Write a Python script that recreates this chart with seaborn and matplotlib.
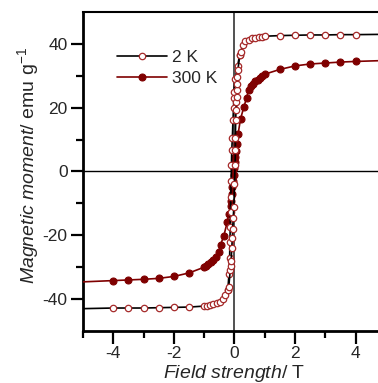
import pandas as pd
import numpy as np
import matplotlib
matplotlib.use('Agg')
import matplotlib.pyplot as plt
import seaborn as sns

# curva 2 K (primeiro e ultimo so para a linha)
campo_2k = [-5.0, -4.0, -3.5, -3.0, -2.5, -2.0, -1.5, -1.0, -0.9, -0.8, -0.7, -0.58, -0.47,
            -0.38, -0.30, -0.22, -0.19, -0.14, -0.12, -0.11, -0.09, -0.07, -0.06, -0.04,
            -0.02, 0.0, 0.02, 0.03, 0.03, 0.04, 0.05, 0.06, 0.07, 0.08, 0.08, 0.09, 0.11,
            0.175, 0.20, 0.28, 0.36, 0.47, 0.58, 0.68, 0.80, 0.91, 1.0, 1.5, 2.0, 2.5,
            3.0, 3.5, 4.0, 5.0]
momento_2k = [-43.0, -42.8, -42.8, -42.8, -42.7, -42.6, -42.5, -42.2, -42.1, -41.9, -41.6,
              -41.3, -40.8, -40.0, -38.7, -37.2, -36.3, -31.0, -29.5, -28.0, -24.0, -21.0,
              -18.0, -14.5, -11.0, -4.0, 1.9, 6.6, 10.4, 16.0, 19.2, 21.8, 23.3, 25.4, 27.5,
              29.6, 31.7, 36.4, 37.5, 39.6, 40.8, 41.3, 41.7, 42.0, 42.1, 42.2, 42.4, 42.6,
              42.7, 42.8, 42.8, 42.9, 42.9, 43.0]

# ramo de volta do 2 K (so a parte ingreme)
campo_2k_volta = [0.17, 0.10, 0.02, -0.02, -0.02, -0.03, -0.05, -0.07, -0.09, -0.10, -0.11,
                  -0.12, -0.13, -0.14, -0.15, -0.16, -0.18, -0.22]
momento_2k_volta = [36.4, 33.0, 29.0, 25.0, 23.0, 20.0, 16.0, 10.4, 6.6, 1.9, -3.0, -8.0,
                    -12.8, -17.5, -22.0, -27.0, -32.0, -37.2]

# curva 300 K
campo_300k = [-5.0, -4.0, -3.5, -3.0, -2.5, -2.0, -1.5, -1.0, -0.95, -0.87, -0.79, -0.71,
              -0.61, -0.52, -0.46, -0.35, -0.24, -0.19, -0.13, -0.11, -0.09, -0.07, -0.05,
              -0.03, -0.01, 0.01, 0.03, 0.05, 0.09, 0.12, 0.20, 0.31, 0.40, 0.47, 0.53,
              0.60, 0.69, 0.77, 0.84, 0.91, 1.0, 1.5, 2.0, 2.5, 3.0, 3.5, 4.0, 5.0]
momento_300k = [-34.6, -34.2, -34.0, -33.8, -33.5, -32.9, -31.8, -30.0, -29.5, -29.0, -28.5,
                -27.7, -26.7, -25.1, -23.0, -20.1, -15.9, -13.3, -10.7, -9.1, -7.0, -5.0,
                -3.0, -1.0, 1.0, 3.0, 4.5, 6.5, 8.7, 11.8, 16.5, 20.2, 23.1, 25.7, 26.7,
                27.5, 28.3, 28.8, 29.3, 29.8, 30.5, 32.0, 33.1, 33.7, 34.0, 34.3, 34.5, 34.8]

vermelho = '#7f0000'
borda = '#a52a2a'

sns.set_style('ticks')
plt.rcParams['font.family'] = ['Liberation Sans', 'DejaVu Sans']
plt.rcParams['mathtext.fontset'] = 'custom'
plt.rcParams['mathtext.rm'] = 'Liberation Sans'
plt.rcParams['mathtext.it'] = 'Liberation Sans:italic'

fig = plt.figure(figsize=(3.78, 3.83), dpi=100)
ax = fig.add_axes([0.2196, 0.1358, 0.8014, 0.8329])

ax.axhline(0, color='black', lw=1.0, zorder=1)
ax.axvline(0, color='#333333', lw=1.2, zorder=1)

df_2k = pd.DataFrame({'campo': campo_2k, 'momento': momento_2k})
df_2k_volta = pd.DataFrame({'campo': campo_2k_volta, 'momento': momento_2k_volta})
df_300k = pd.DataFrame({'campo': campo_300k, 'momento': momento_300k})

sns.lineplot(data=df_300k, x='campo', y='momento', sort=False, estimator=None, ax=ax,
             color=vermelho, lw=1.2, marker='o', markevery=slice(1, -1), ms=5.0,
             mfc=vermelho, mec=vermelho, mew=0.8, label='300 K', zorder=3)
sns.lineplot(data=df_2k_volta, x='campo', y='momento', sort=False, estimator=None, ax=ax,
             color='black', lw=1.2, marker='o', ms=4.6, mfc='white', mec=borda, mew=0.9,
             zorder=4)
sns.lineplot(data=df_2k, x='campo', y='momento', sort=False, estimator=None, ax=ax,
             color='black', lw=1.2, marker='o', markevery=slice(1, -1), ms=4.6,
             mfc='white', mec=borda, mew=0.9, label='2 K', zorder=4)

ax.set_xlim(-5, 5)
ax.set_ylim(-50, 50)
ax.set_xticks([-4, -2, 0, 2, 4])
ax.set_xticks([-5, -3, -1, 1, 3, 5], minor=True)
ax.set_yticks([-40, -20, 0, 20, 40])
ax.set_yticks([-30, -10, 10, 30], minor=True)
ax.set_xticklabels(['-4', '-2', '0', '2', '4'])
ax.set_yticklabels(['-40', '-20', '0', '20', '40'])
ax.tick_params(which='major', length=9, width=1.6, labelsize=12.5, pad=2, color='black')
ax.tick_params(which='minor', length=5, width=1.6, color='black')

for lado in ['left', 'bottom', 'top', 'right']:
    ax.spines[lado].set_color('black')
ax.spines['left'].set_linewidth(2)
ax.spines['bottom'].set_linewidth(2)
ax.spines['top'].set_linewidth(1.5)
ax.spines['right'].set_linewidth(1.5)

ax.set_xlabel(r'$\it{Field\ strength}$/ T', fontsize=14, labelpad=1)
ax.set_ylabel(r'$\it{Magnetic\ moment}$/ emu g$^{-1}$', fontsize=14, labelpad=1)
ax.yaxis.set_label_coords(-0.138, 0.52)

handles, labels = ax.get_legend_handles_labels()
ordem = [labels.index('2 K'), labels.index('300 K')]
ax.legend([handles[i] for i in ordem], [labels[i] for i in ordem], loc='upper left',
          bbox_to_anchor=(0.06, 0.93), frameon=False, fontsize=12.5, handlelength=2.9,
          handletextpad=0.3, labelspacing=0.35)

fig.savefig('out.png', dpi=100)
